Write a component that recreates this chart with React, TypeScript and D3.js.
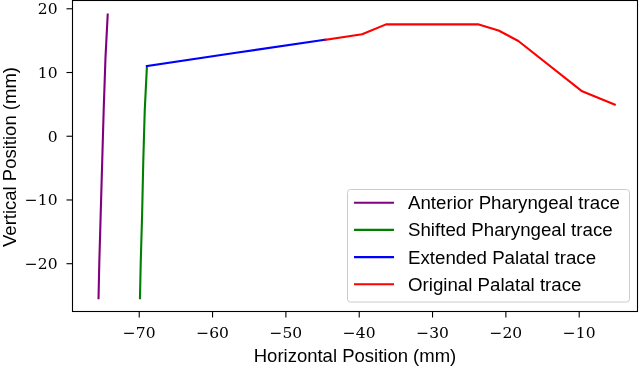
import React, { useEffect, useRef } from "react";
import * as d3 from "d3";

const width = 640;
const height = 367;

// traces, [x, y] in mm
const anteriorPharyngeal: [number, number][] = [
  [-75.55, -25.4], [-75.45, -20], [-75.25, -12], [-75.05, -4],
  [-74.85, 4], [-74.6, 12.4], [-74.3, 19.1],
];
const shiftedPharyngeal: [number, number][] = [
  [-69.9, -25.4], [-69.8, -20], [-69.6, -12], [-69.45, -4],
  [-69.25, 4], [-68.95, 11.0],
];
const extendedPalatal: [number, number][] = [
  [-68.95, 11.0], [-56.8, 13.1], [-44.6, 15.15],
];
const originalPalatal: [number, number][] = [
  [-44.6, 15.15], [-39.6, 16.0], [-36.35, 17.55], [-23.7, 17.55],
  [-21.0, 16.6], [-18.3, 14.95], [-9.6, 7.05], [-5.15, 4.97],
];

const seriesNames = [
  "Anterior Pharyngeal trace",
  "Shifted Pharyngeal trace",
  "Extended Palatal trace",
  "Original Palatal trace",
];
const seriesColors = ["#800080", "#008000", "#0000ff", "#ff0000"];
const seriesData = [anteriorPharyngeal, shiftedPharyngeal, extendedPalatal, originalPalatal];

const xTicks = [-70, -60, -50, -40, -30, -20, -10];
const yTicks = [-20, -10, 0, 10, 20];

const App = () => {
  const ref = useRef<SVGSVGElement>(null);

  useEffect(() => {
    drawChart();
  }, []);

  const drawChart = () => {
    const svg = d3.select(ref.current);
    svg.selectAll("*").remove();

    const left = 72.5, right = 637.5, top = 0.5, bottom = 311.5;
    const x = d3.scaleLinear().domain([-79.1, -2.05]).range([left, right]);
    const y = d3.scaleLinear().domain([-27.5, 21.3]).range([bottom, top]);

    const serif = "'DejaVu Serif', 'Liberation Serif', serif";
    const sans = "'Liberation Sans', Arial, sans-serif";

    const line = d3
      .line<[number, number]>()
      .x((d) => x(d[0]))
      .y((d) => y(d[1]));

    seriesData.forEach((data, i) => {
      svg.append("path")
        .attr("d", line(data))
        .attr("fill", "none")
        .attr("stroke", seriesColors[i])
        .attr("stroke-width", 2.1)
        .attr("stroke-linejoin", "round")
        .attr("stroke-linecap", "square");
    });

    // frame
    svg.append("rect")
      .attr("x", left).attr("y", top)
      .attr("width", right - left).attr("height", bottom - top)
      .attr("fill", "none").attr("stroke", "#000").attr("stroke-width", 1.1);

    const fmt = (v: number) => (v < 0 ? "\u2212" + Math.abs(v) : String(v));

    const xAxis = svg.append("g");
    xTicks.forEach((t) => {
      xAxis.append("line")
        .attr("x1", x(t)).attr("x2", x(t))
        .attr("y1", bottom).attr("y2", bottom + 6)
        .attr("stroke", "#000").attr("stroke-width", 1.1);
      xAxis.append("text")
        .attr("x", x(t)).attr("y", bottom + 26.5)
        .attr("text-anchor", "middle")
        .attr("font-family", serif).attr("font-size", 15.5)
        .attr("font-weight", 300)
        .text(fmt(t));
    });

    const yAxis = svg.append("g");
    yTicks.forEach((t) => {
      yAxis.append("line")
        .attr("x1", left - 6).attr("x2", left)
        .attr("y1", y(t)).attr("y2", y(t))
        .attr("stroke", "#000").attr("stroke-width", 1.1);
      yAxis.append("text")
        .attr("x", left - 15).attr("y", y(t) + 5.5)
        .attr("text-anchor", "end")
        .attr("font-family", serif).attr("font-size", 15.5)
        .attr("font-weight", 300)
        .text(fmt(t));
    });

    svg.append("text")
      .attr("x", (left + right) / 2).attr("y", 362)
      .attr("text-anchor", "middle")
      .attr("font-family", sans).attr("font-size", 18.5)
      .text("Horizontal Position (mm)");

    svg.append("text")
      .attr("transform", `translate(16,157) rotate(-90)`)
      .attr("text-anchor", "middle")
      .attr("font-family", sans).attr("font-size", 18.5)
      .text("Vertical Position (mm)");

    // legend
    const legend = svg.append("g");
    legend.append("rect")
      .attr("x", 347.5).attr("y", 189.5)
      .attr("width", 282).attr("height", 112.5)
      .attr("rx", 3).attr("fill", "#fff").attr("fill-opacity", 0.8)
      .attr("stroke", "#cccccc").attr("stroke-width", 1);

    seriesNames.forEach((name, i) => {
      const ly = 202.7 + i * 27.2;
      legend.append("line")
        .attr("x1", 354).attr("x2", 394)
        .attr("y1", ly).attr("y2", ly)
        .attr("stroke", seriesColors[i]).attr("stroke-width", 2.1);
      legend.append("text")
        .attr("x", 408).attr("y", ly + 6.5)
        .attr("font-family", sans).attr("font-size", 18.7)
        .text(name);
    });
  };

  return (
    <div style={{ position: "fixed", left: 0, top: 0 }}>
      <svg ref={ref} width={width} height={height} style={{ display: "block" }} />
    </div>
  );
};

export default App;
